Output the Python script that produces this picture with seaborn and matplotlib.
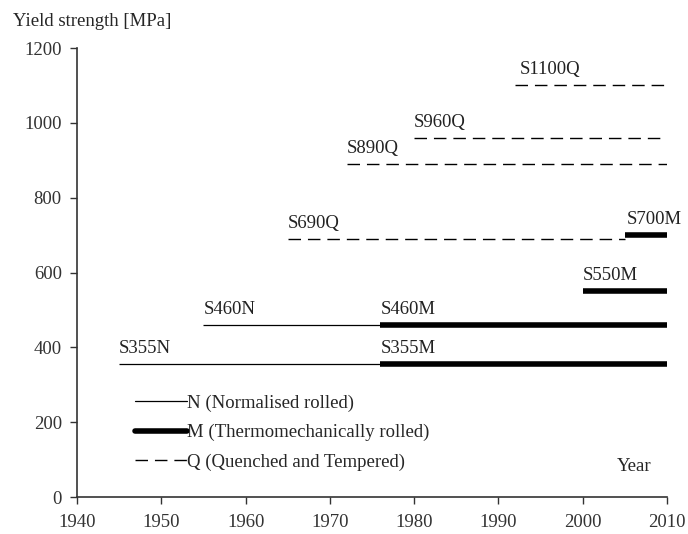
import matplotlib
matplotlib.use("Agg")
import matplotlib.pyplot as plt
import pandas as pd
import seaborn as sns
from matplotlib.lines import Line2D

# Steel grades: label, start year, end year, yield strength, process
grades = ["S355N", "S460N", "S355M", "S460M", "S550M", "S690Q", "S700M", "S890Q", "S960Q", "S1100Q"]
start_year = [1945, 1955, 1976, 1976, 2000, 1965, 2005, 1972, 1980, 1992]
end_year = [1976, 1976, 2010, 2010, 2010, 2005, 2010, 2010, 2010, 2010]
strength = [355, 460, 355, 460, 550, 690, 700, 890, 960, 1100]
process = ["N", "N", "M", "M", "M", "Q", "M", "Q", "Q", "Q"]
# label placement (x in years)
label_x = [1945, 1955, 1976, 1976, 2000, 1965, 2005.2, 1972, 1980, 1992.5]

legend_labels = {"N": "N (Normalised rolled)",
                 "M": "M (Thermomechanically rolled)",
                 "Q": "Q (Quenched and Tempered)"}

sns.set_style("ticks")
plt.rcParams["font.family"] = ["Liberation Serif", "DejaVu Serif"]
FS = 13.5

styles = {"N": dict(linewidth=0.9, linestyle="-"),
          "M": dict(linewidth=4.0, linestyle="-"),
          "Q": dict(linewidth=1.0, linestyle=(0, (9, 5)))}

fig = plt.figure(figsize=(6.88, 5.34), dpi=100)
ax = fig.add_axes([0.112, 0.069, 0.8575, 0.841])

for g, s, e, v, p in zip(grades, start_year, end_year, strength, process):
    seg = pd.DataFrame({"year": [s, e], "mpa": [v, v]})
    sns.lineplot(data=seg, x="year", y="mpa", ax=ax, color="black",
                 solid_capstyle="butt", **styles[p])

for g, lx, v in zip(grades, label_x, strength):
    ax.text(lx, v + 30, g, fontsize=FS, ha="left", va="baseline", color="#222222")

ax.set_xlim(1940, 2010)
ax.set_ylim(0, 1200)
ax.set_xticks(range(1940, 2011, 10))
ax.set_yticks(range(0, 1201, 200))
ax.set_xlabel("")
ax.set_ylabel("")
ax.tick_params(labelsize=FS, direction="out", length=5, width=1, colors="#333333")
ax.tick_params(axis="x", pad=7)
ax.tick_params(axis="y", pad=6)
for sp in ["left", "bottom"]:
    ax.spines[sp].set_color("#333333")
    ax.spines[sp].set_linewidth(1.2)
sns.despine(ax=ax)

handles = [Line2D([], [], color="black", **styles[k]) for k in ["N", "M", "Q"]]
ax.legend(handles, [legend_labels[k] for k in ["N", "M", "Q"]],
          loc="upper left", bbox_to_anchor=(0.098, 0.229), frameon=False,
          fontsize=FS, handlelength=2.8, handletextpad=0.0, labelspacing=0.66,
          borderpad=0, borderaxespad=0)

ax.text(2004, 83, "Year", fontsize=FS, ha="left", va="center")
fig.text(13 / 688, 1 - 22 / 534, "Yield strength [MPa]", fontsize=FS,
         ha="left", va="center")

fig.savefig("out.png", dpi=100)
